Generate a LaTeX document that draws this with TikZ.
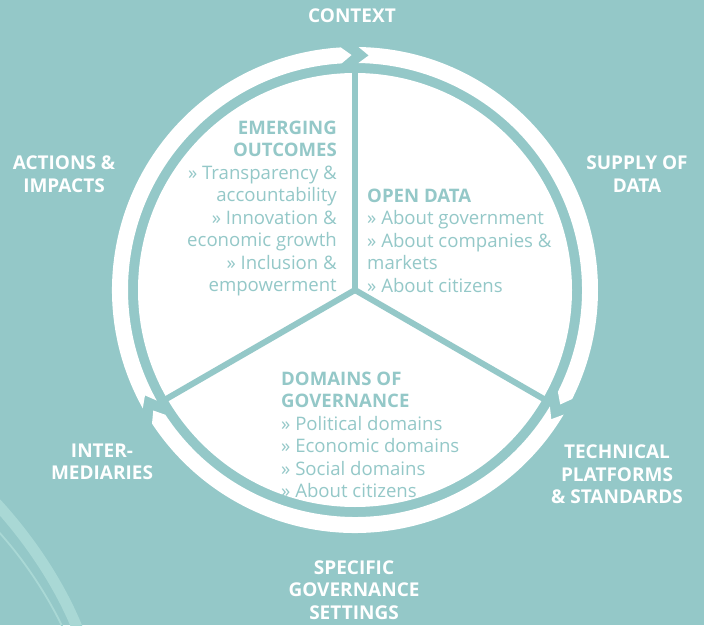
\documentclass[tikz,border=0pt]{standalone}
\usepackage{fontspec}
\setmainfont{Open Sans}
\definecolor{bg}{HTML}{94C8C8}
\definecolor{lite}{HTML}{A9D8D5}
\tikzset{
  outerlabel/.style={text=white, font=\fontsize{19}{22.5}\selectfont\bfseries, align=center, inner sep=0pt},
  innertext/.style={text=bg, font=\fontsize{18.6}{22.5}\selectfont, inner sep=0pt},
  spoke/.style={draw=bg, line width=6pt},
}
\def\gg{4.2}
\def\dd{2.5}
\begin{document}
\begin{tikzpicture}[x=1pt,y=1pt]
\fill[bg] (0,0) rectangle (704,625);
\useasboundingbox (0,0) rectangle (704,625);
% decorative curves
\draw[lite, line width=11pt] (-4,122) .. controls (30,85) and (60,40) .. (78,-5);
\draw[lite, line width=1.8pt] (-3,95) .. controls (20,70) and (45,35) .. (64,-5);
\coordinate (C) at (355,335);
% outer ring with chevron breaks
\foreach \B in {90,210,330} {
  \pgfmathsetmacro\Sa{\B+\dd/2-\gg/2}
  \pgfmathsetmacro\Sn{\B-\dd/2-\gg/2}
  \pgfmathsetmacro\Ea{\B-120+\dd/2+\gg/2}
  \pgfmathsetmacro\Et{\B-120-\dd/2+\gg/2}
  \fill[white] ([shift={(355,335)}]\Sa:243) arc[start angle=\Sa, end angle=\Ea, radius=243]
    -- ([shift={(355,335)}]\Et:235) -- ([shift={(355,335)}]\Ea:227)
    arc[start angle=\Ea, end angle=\Sa, radius=227]
    -- ([shift={(355,335)}]\Sn:235) -- cycle;
}
% inner disk
\fill[white] (C) circle[radius=217];
\coordinate (T) at ([shift={(355,335)}]90:218);
\coordinate (L) at ([shift={(355,335)}]210:218);
\coordinate (R) at ([shift={(355,335)}]330:218);
\draw[spoke] (C) -- (T);
\draw[spoke] (C) -- (L);
\draw[spoke] (C) -- (R);
% outer labels
\node[outerlabel] (ctx) at (352,609) {CONTEXT};
\node[outerlabel] (act) at (64,451) {ACTIONS \&\\IMPACTS};
\node[outerlabel] (sup) at (637,451) {SUPPLY OF\\DATA};
\node[outerlabel] (int) at (102,163) {INTER-\\MEDIARIES};
\node[outerlabel] (tec) at (617,150.5) {TECHNICAL\\PLATFORMS\\\& STANDARDS};
\node[outerlabel] (spe) at (354,35) {SPECIFIC\\GOVERNANCE\\SETTINGS};
% inner texts
\node[innertext, align=right, anchor=east] (emo) at (337,416.5)
  {\textbf{EMERGING}\\\textbf{OUTCOMES}\\» Transparency \&\\accountability\\» Innovation \&\\economic growth\\» Inclusion \&\\empowerment};
\node[innertext, align=left, anchor=west] (opd) at (367,384.5)
  {\textbf{OPEN DATA}\\» About government\\» About companies \&\\markets\\» About citizens};
\node[innertext, align=left, anchor=west] (dom) at (281,190)
  {\textbf{DOMAINS OF}\\\textbf{GOVERNANCE}\\» Political domains\\» Economic domains\\» Social domains\\» About citizens};
\end{tikzpicture}
\end{document}
